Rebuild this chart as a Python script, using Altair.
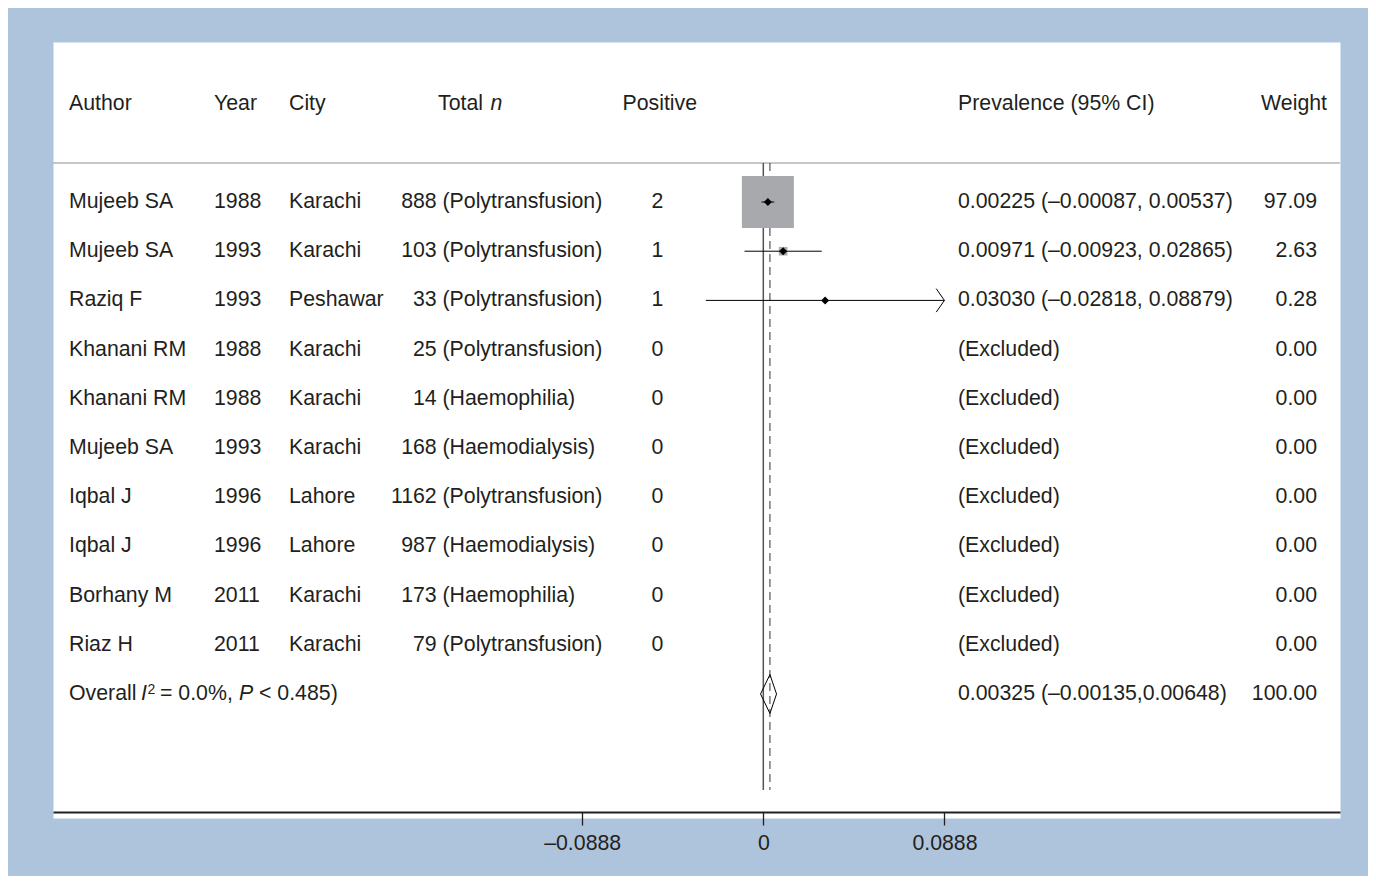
import altair as alt
import pandas as pd

# ---------------- data ----------------
authors = ["Mujeeb SA", "Mujeeb SA", "Raziq F", "Khanani RM", "Khanani RM",
           "Mujeeb SA", "Iqbal J", "Iqbal J", "Borhany M", "Riaz H"]
years = [1988, 1993, 1993, 1988, 1988, 1993, 1996, 1996, 2011, 2011]
cities = ["Karachi", "Karachi", "Peshawar", "Karachi", "Karachi",
          "Karachi", "Lahore", "Lahore", "Karachi", "Karachi"]
totals = [888, 103, 33, 25, 14, 168, 1162, 987, 173, 79]
groups = ["Polytransfusion", "Polytransfusion", "Polytransfusion", "Polytransfusion",
          "Haemophilia", "Haemodialysis", "Polytransfusion", "Haemodialysis",
          "Haemophilia", "Polytransfusion"]
positives = [2, 1, 1, 0, 0, 0, 0, 0, 0, 0]
estimates = [0.00225, 0.00971, 0.03030, None, None, None, None, None, None, None]
lowers = [-0.00087, -0.00923, -0.02818, None, None, None, None, None, None, None]
uppers = [0.00537, 0.02865, 0.08879, None, None, None, None, None, None, None]
weights = [97.09, 2.63, 0.28, 0.00, 0.00, 0.00, 0.00, 0.00, 0.00, 0.00]
arrow_right = [False, False, True, False, False, False, False, False, False, False]

overall_est = 0.00325
overall_lo = -0.00135
overall_hi = 0.00648
overall_weight = 100.00
overall_i2 = 0.0
overall_p = 0.485

tick_values = [-0.0888, 0, 0.0888]
tick_labels = ["\u20130.0888", "0", "0.0888"]

# ---------------- style / layout ----------------
FONT = "Liberation Sans"
TXT = "#231f20"
BLUE = "#adc4dc"
BOXGRAY = "#a7a9ac"
FS = 21.3

W, H = 1287, 776
XDOM = [-0.3482, 0.2827]
YDOM = [-3.252, 12.52]
HEADER_ROW = -2
RULE_TOP = -0.793
RULE_BOTTOM = 11.95
OVERALL_ROW = len(authors)
DIAMOND_HALF = 0.396


def fmt(v):
    s = f"{abs(v):.5f}"
    return ("\u2013" + s) if v < 0 else s


rows = []
for i in range(len(authors)):
    if estimates[i] is None:
        prev = "(Excluded)"
    else:
        prev = f"{fmt(estimates[i])} ({fmt(lowers[i])}, {fmt(uppers[i])})"
    rows.append({
        "row": i, "author": authors[i], "year": str(years[i]), "city": cities[i],
        "total": str(totals[i]), "group": f"({groups[i]})", "positive": str(positives[i]),
        "prev": prev, "weight": f"{weights[i]:.2f}",
    })
rows.append({"row": OVERALL_ROW, "author": "", "year": "", "city": "", "total": "",
             "group": "", "positive": "",
             "prev": f"{fmt(overall_est)} ({fmt(overall_lo)},{fmt(overall_hi)})",
             "weight": f"{overall_weight:.2f}"})
tbl = pd.DataFrame(rows)

forest = pd.DataFrame([
    {"row": i, "est": estimates[i], "lo": lowers[i], "hi": uppers[i], "w": weights[i],
     "arrow": arrow_right[i]}
    for i in range(len(authors)) if estimates[i] is not None
])

label_expr = " : ".join(
    f"abs(datum.value - ({v})) < 1e-9 ? '{l}'" for v, l in zip(tick_values, tick_labels)
) + " : ''"

xs = alt.Scale(domain=XDOM, nice=False, zero=False)
ys = alt.Scale(domain=YDOM, reverse=True, nice=False, zero=False)
xaxis = alt.Axis(values=tick_values, labelExpr=label_expr, title=None, grid=False,
                 domain=True, domainColor=TXT, domainWidth=2, ticks=True, tickColor=TXT,
                 tickWidth=1.3, tickSize=13, labelFont=FONT, labelFontSize=FS,
                 labelColor=TXT, labelPadding=7, offset=-6, orient="bottom",
                 labelFlush=False, labelOverlap=False)


def X(f):
    return alt.X(f, type="quantitative", scale=xs, axis=xaxis)


def Y(f):
    return alt.Y(f, type="quantitative", scale=ys, axis=None)


def col(df, field, xpx, align="left", italic=False, size=FS, dy=0):
    return alt.Chart(df).mark_text(
        align=align, baseline="middle", font=FONT, fontSize=size, color=TXT,
        fontStyle="italic" if italic else "normal", dy=dy
    ).encode(x=alt.value(xpx), y=Y("row"), text=alt.Text(f"{field}:N"))


def label(txt, row, xpx, align="left", italic=False, size=FS, dy=0):
    df = pd.DataFrame({"row": [row], "t": [txt]})
    return col(df, "t", xpx, align=align, italic=italic, size=size, dy=dy)


layers = []

# header separator line
layers.append(alt.Chart(pd.DataFrame({"y": [RULE_TOP]})).mark_rule(
    color="#b5b5b5", strokeWidth=1.5).encode(x=alt.value(0), x2=alt.value(W), y=Y("y")))

# reference lines
layers.append(alt.Chart(pd.DataFrame({"x": [0.0], "y": [RULE_TOP], "y2": [RULE_BOTTOM]}))
              .mark_rule(color="#555555", strokeWidth=1.5)
              .encode(x=X("x"), y=Y("y"), y2="y2"))
layers.append(alt.Chart(pd.DataFrame({"x": [overall_est], "y": [RULE_TOP], "y2": [RULE_BOTTOM]}))
              .mark_rule(color="#333333", strokeWidth=1, strokeDash=[8, 5])
              .encode(x=X("x"), y=Y("y"), y2="y2"))

# weight boxes
layers.append(alt.Chart(forest).mark_square(color=BOXGRAY, opacity=1).encode(
    x=X("est"), y=Y("row"),
    size=alt.Size("w:Q", scale=alt.Scale(domain=[0, 97.09], range=[0, 2704]), legend=None)))
# CI lines
layers.append(alt.Chart(forest).mark_rule(color="black", strokeWidth=1).encode(
    x=X("lo"), x2="hi", y=Y("row")))
# point estimates
layers.append(alt.Chart(forest).mark_point(shape="diamond", filled=True, color="black",
                                           size=64, opacity=1).encode(x=X("est"), y=Y("row")))
# arrows for truncated CIs
layers.append(alt.Chart(forest[forest["arrow"]]).mark_point(
    shape="M-0.7,-1L0,0L-0.7,1", filled=False, color="black", strokeWidth=1, size=550,
    opacity=1).encode(x=X("hi"), y=Y("row")))

# overall diamond
dia = pd.DataFrame({
    "x": [overall_lo, overall_est, overall_hi, overall_est, overall_lo],
    "y": [OVERALL_ROW, OVERALL_ROW - DIAMOND_HALF, OVERALL_ROW,
          OVERALL_ROW + DIAMOND_HALF, OVERALL_ROW],
    "o": [0, 1, 2, 3, 4],
})
layers.append(alt.Chart(dia).mark_line(color="black", strokeWidth=1).encode(
    x=X("x"), y=Y("y"), order="o:Q"))

# headers
layers += [
    label("Author", HEADER_ROW, 16),
    label("Year", HEADER_ROW, 161),
    label("City", HEADER_ROW, 236),
    label("Total", HEADER_ROW, 385),
    label("n", HEADER_ROW, 437.5, italic=True),
    label("Positive", HEADER_ROW, 569.5),
    label("Prevalence (95% CI)", HEADER_ROW, 905),
    label("Weight", HEADER_ROW, 1274, align="right"),
]

# table columns
study = tbl[tbl["row"] < OVERALL_ROW]
layers += [
    col(study, "author", 16),
    col(study, "year", 161),
    col(study, "city", 236),
    col(study, "total", 383.7, align="right"),
    col(study, "group", 389.5),
    col(study, "positive", 604.5, align="center"),
    col(tbl, "prev", 905),
    col(tbl, "weight", 1264, align="right"),
]

# overall label with italic parts
layers += [
    label("Overall", OVERALL_ROW, 16),
    label("I", OVERALL_ROW, 88, italic=True),
    label("2", OVERALL_ROW, 94.5, size=14, dy=-4),
    label(f"= {overall_i2:.1f}%,", OVERALL_ROW, 107),
    label("P", OVERALL_ROW, 186, italic=True),
    label(f"< {overall_p:.3f})", OVERALL_ROW, 206),
]

chart = alt.layer(*layers).properties(
    width=W, height=H, background=BLUE,
    padding={"left": 45, "top": 34, "right": 28, "bottom": 58},
    autosize=alt.AutoSizeParams(type="none"),
).configure_view(fill="white", strokeOpacity=0)

chart.save("out.html", embed_options={"renderer": "svg", "actions": False})
